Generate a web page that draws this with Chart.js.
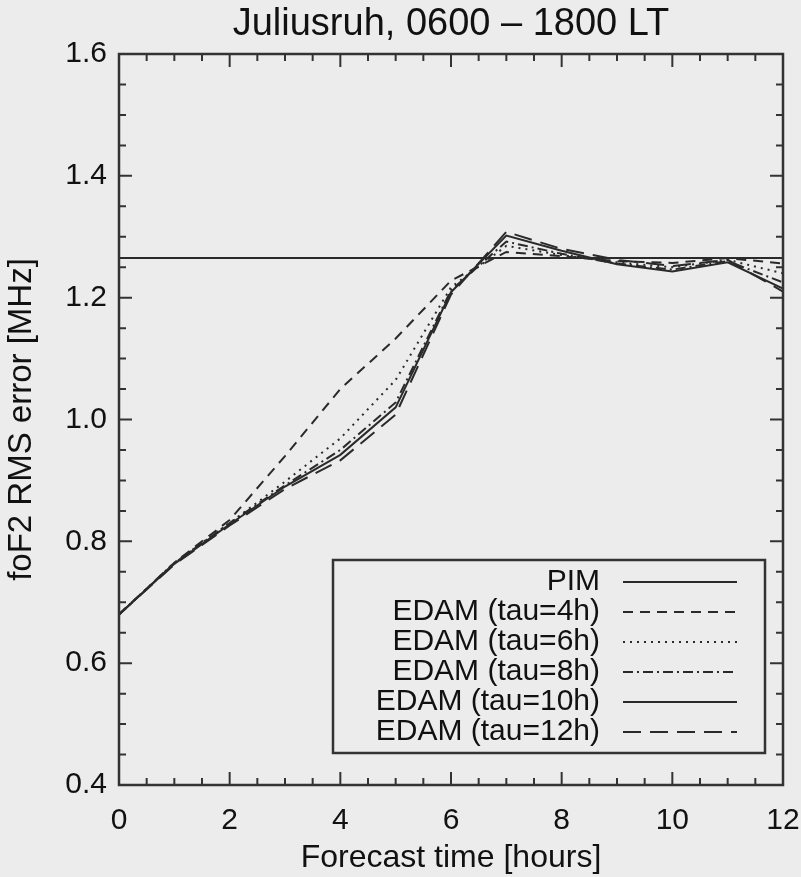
<!DOCTYPE html>
<html>
<head>
<meta charset="utf-8">
<script src="https://cdn.jsdelivr.net/npm/chart.js@4.4.1/dist/chart.umd.min.js"></script>
<style>
  html, body { margin: 0; padding: 0; background: #ececec; }
  canvas { display: block; }
</style>
</head>
<body>
<canvas id="myChart" width="801" height="877"></canvas>
<script>
// donnees
let heures = [0, 1, 2, 3, 4, 5, 6, 7, 8, 9, 10, 11, 12];
let pim = [1.265, 1.265, 1.265, 1.265, 1.265, 1.265, 1.265, 1.265, 1.265, 1.265, 1.265, 1.265, 1.265];
let tau4 = [0.68, 0.765, 0.835, 0.94, 1.05, 1.133, 1.228, 1.275, 1.268, 1.26, 1.257, 1.265, 1.256];
let tau6 = [0.68, 0.765, 0.83, 0.898, 0.969, 1.065, 1.217, 1.285, 1.27, 1.258, 1.25, 1.262, 1.24];
let tau8 = [0.68, 0.764, 0.83, 0.892, 0.95, 1.028, 1.212, 1.292, 1.272, 1.256, 1.246, 1.26, 1.225];
let tau10 = [0.68, 0.763, 0.828, 0.89, 0.942, 1.02, 1.209, 1.302, 1.277, 1.255, 1.243, 1.258, 1.215];
let tau12 = [0.68, 0.762, 0.826, 0.886, 0.933, 1.008, 1.205, 1.308, 1.28, 1.262, 1.252, 1.262, 1.21];
let noms = ["PIM", "EDAM (tau=4h)", "EDAM (tau=6h)", "EDAM (tau=8h)", "EDAM (tau=10h)", "EDAM (tau=12h)"];
let xTicks = [0, 2, 4, 6, 8, 10, 12];
let yTicks = [0.4, 0.6, 0.8, 1.0, 1.2, 1.4, 1.6];

let police = "'Liberation Sans', Arial, Helvetica, sans-serif";
let encre = "#2a2a2a";
let fond = "#ececec";

function serie(nom, valeurs, tirets) {
  return {
    label: nom,
    data: valeurs.map(function (v, i) { return { x: heures[i], y: v }; }),
    borderColor: encre,
    backgroundColor: encre,
    borderWidth: 2,
    borderDash: tirets,
    pointRadius: 0,
    tension: 0,
    fill: false,
  };
}

// fond gris + cadre avec petites graduations vers l'interieur
const cadre = {
  id: "cadre",
  beforeDraw(chart) {
    let ctx = chart.ctx;
    ctx.save();
    ctx.fillStyle = fond;
    ctx.fillRect(0, 0, chart.width, chart.height);
    ctx.restore();
  },
  afterDatasetsDraw(chart) {
    let ctx = chart.ctx;
    let a = chart.chartArea;
    let sx = chart.scales.x;
    let sy = chart.scales.y;
    ctx.save();
    ctx.strokeStyle = "#333";
    ctx.lineWidth = 2.5;
    ctx.strokeRect(a.left, a.top, a.right - a.left, a.bottom - a.top);
    ctx.lineWidth = 2;
    ctx.beginPath();
    for (let v = sx.min; v <= sx.max + 1e-9; v += 0.5) {
      let px = sx.getPixelForValue(v);
      let l = (Math.abs(v % 2) < 1e-6) ? 13 : 7;
      ctx.moveTo(px, a.bottom); ctx.lineTo(px, a.bottom - l);
      ctx.moveTo(px, a.top); ctx.lineTo(px, a.top + l);
    }
    for (let k = 0; k <= 24; k++) {
      let v = sy.min + k * 0.05;
      let py = sy.getPixelForValue(v);
      let l = (k % 4 == 0) ? 13 : 7;
      ctx.moveTo(a.left, py); ctx.lineTo(a.left + l, py);
      ctx.moveTo(a.right, py); ctx.lineTo(a.right - l, py);
    }
    ctx.stroke();

    // legende: texte aligne a droite, echantillon de trait apres
    let bx = 333, by = 560, bw = 432, bh = 193;
    ctx.fillStyle = fond;
    ctx.fillRect(bx, by, bw, bh);
    ctx.strokeStyle = "#333";
    ctx.lineWidth = 2.5;
    ctx.strokeRect(bx, by, bw, bh);
    ctx.font = "30px " + police;
    ctx.textAlign = "right";
    ctx.textBaseline = "middle";
    chart.data.datasets.forEach(function (ds, i) {
      let yy = 582 + i * 30;
      ctx.fillStyle = "#111";
      ctx.fillText(ds.label, 600, yy);
      ctx.strokeStyle = ds.borderColor;
      ctx.lineWidth = 2;
      ctx.setLineDash(ds.borderDash || []);
      ctx.beginPath();
      ctx.moveTo(623, yy);
      ctx.lineTo(737, yy);
      ctx.stroke();
      ctx.setLineDash([]);
    });
    ctx.restore();
  },
};

const graph = document.getElementById("myChart").getContext("2d");
const myChart = new Chart(graph, {
  type: "line",
  data: {
    datasets: [
      serie(noms[0], pim, []),
      serie(noms[1], tau4, [10, 7]),
      serie(noms[2], tau6, [2, 5]),
      serie(noms[3], tau8, [10, 4, 2, 4]),
      serie(noms[4], tau10, []),
      serie(noms[5], tau12, [18, 9]),
    ],
  },
  options: {
    responsive: false,
    animation: false,
    layout: { padding: { left: 0, right: 18, top: 0, bottom: 0 } },
    plugins: {
      legend: { display: false },
      tooltip: { enabled: false },
      title: {
        display: true,
        text: "Juliusruh, 0600 – 1800 LT",
        fullSize: false,
        color: "#111",
        font: { family: police, size: 38, weight: "normal" },
        padding: { top: 2, bottom: 6.4 },
      },
    },
    scales: {
      x: {
        type: "linear",
        min: 0,
        max: 12,
        // hauteur fixe, pas de marge ajoutee pour le dernier label
        afterFit(scale) { scale.height = 92; scale.paddingRight = 0; scale.paddingLeft = 0; },
        afterBuildTicks(scale) { scale.ticks = xTicks.map(function (v) { return { value: v }; }); },
        grid: { display: false, drawTicks: false },
        border: { display: false },
        ticks: {
          padding: 18,
          color: "#111",
          font: { family: police, size: 30 },
          maxRotation: 0,
        },
        title: {
          display: true,
          text: "Forecast time [hours]",
          color: "#111",
          font: { family: police, size: 32 },
          padding: { top: 0, bottom: 0 },
        },
      },
      y: {
        type: "linear",
        min: 0.4,
        max: 1.6,
        afterFit(scale) { scale.width = 119; },
        afterBuildTicks(scale) { scale.ticks = yTicks.map(function (v) { return { value: v }; }); },
        grid: { display: false, drawTicks: false },
        border: { display: false },
        ticks: {
          padding: 12,
          color: "#111",
          font: { family: police, size: 30 },
          callback: function (v) { return Number(v).toFixed(1); },
        },
        title: {
          display: true,
          text: "foF2 RMS error [MHz]",
          color: "#111",
          font: { family: police, size: 33 },
          padding: { top: 2, bottom: 0 },
        },
      },
    },
  },
  plugins: [cadre],
});
</script>
</body>
</html>
